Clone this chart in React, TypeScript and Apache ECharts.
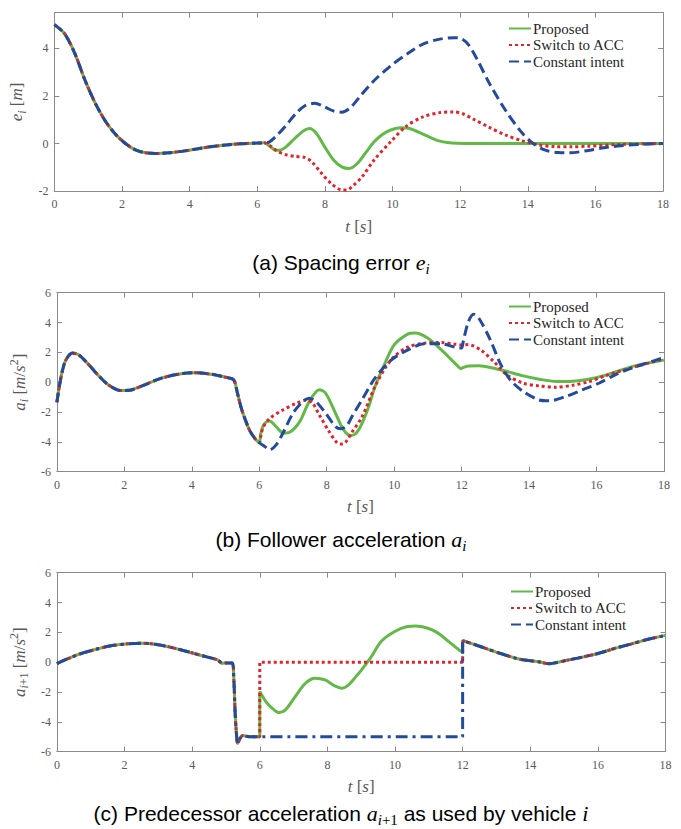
import React, { useEffect, useRef } from 'react';
import * as echarts from 'echarts';

type Pt = [number, number];

// ---------- (a) Spacing error e_i [m] ----------
const eCommon: Pt[] = [
  [0, 5.0], [0.3, 4.62], [0.6, 3.8], [0.9, 2.68], [1.2, 1.72], [1.5, 0.96], [1.8, 0.4],
  [2.1, 0.0], [2.4, -0.27], [2.7, -0.39], [3.0, -0.42], [3.4, -0.39], [3.8, -0.32],
  [4.2, -0.23], [4.6, -0.14], [5.0, -0.07], [5.5, -0.01], [6.0, 0.02], [6.2, 0.03],
];
const eProposed: Pt[] = [
  [6.4, -0.15], [6.55, -0.28], [6.7, -0.27], [6.85, -0.14], [7.1, 0.2], [7.35, 0.52],
  [7.55, 0.63], [7.75, 0.42], [8.0, -0.15], [8.25, -0.68], [8.5, -0.98], [8.72, -1.05],
  [8.95, -0.85], [9.2, -0.4], [9.45, 0.06], [9.7, 0.38], [9.95, 0.57], [10.25, 0.66],
  [10.5, 0.63], [10.9, 0.4], [11.4, 0.1], [11.9, 0.01], [12.5, 0.0], [14, 0.0], [16, 0.0], [18, 0.0],
];
const eSwitch: Pt[] = [
  [6.4, -0.12], [6.6, -0.33], [6.85, -0.47], [7.1, -0.54], [7.4, -0.58], [7.6, -0.75],
  [7.9, -1.25], [8.2, -1.7], [8.5, -1.95], [8.65, -1.95], [8.85, -1.75], [9.1, -1.4],
  [9.45, -0.7], [9.95, 0.08], [10.4, 0.72], [10.9, 1.12], [11.4, 1.3], [11.8, 1.33],
  [12.1, 1.24], [12.4, 1.02], [12.85, 0.69], [13.35, 0.35], [13.85, 0.11], [14.3, -0.05],
  [14.8, -0.13], [15.3, -0.14], [15.8, -0.11], [16.7, -0.04], [17.5, -0.01], [18, 0.0],
];
const eConstant: Pt[] = [
  [6.35, 0.06], [6.55, 0.3], [6.85, 0.76], [7.15, 1.27], [7.42, 1.6], [7.7, 1.69],
  [7.95, 1.57], [8.25, 1.37], [8.5, 1.32], [8.75, 1.5], [9.05, 2.0], [9.45, 2.64],
  [9.95, 3.27], [10.45, 3.78], [10.9, 4.18], [11.4, 4.39], [11.85, 4.45], [12.05, 4.4],
  [12.25, 4.15], [12.5, 3.55], [12.85, 2.57], [13.35, 1.38], [13.8, 0.5], [14.1, 0.07],
  [14.5, -0.27], [14.9, -0.38], [15.25, -0.39], [15.75, -0.3], [16.25, -0.18],
  [16.75, -0.09], [17.25, -0.04], [18, 0.0],
];

// ---------- (b) Follower acceleration a_i [m/s^2] ----------
const aCommon: Pt[] = [
  [0, -1.35], [0.07, -0.3], [0.17, 0.83], [0.27, 1.5], [0.46, 1.95], [0.65, 1.83],
  [0.95, 1.16], [1.24, 0.43], [1.53, -0.18], [1.9, -0.56], [2.2, -0.52], [2.6, -0.18],
  [3.1, 0.27], [3.6, 0.54], [4.07, 0.63], [4.56, 0.54], [4.95, 0.36], [5.2, 0.22],
  [5.27, 0.05], [5.35, -0.7], [5.45, -1.6], [5.55, -2.3], [5.73, -3.3], [5.9, -3.85], [6.0, -4.05],
];
const aProposed: Pt[] = [
  [6.04, -3.5], [6.1, -3.0], [6.18, -2.72], [6.3, -2.6], [6.5, -2.98], [6.72, -3.42],
  [6.9, -3.36], [7.2, -2.64], [7.48, -1.3], [7.78, -0.5], [7.97, -0.74], [8.26, -2.08],
  [8.5, -3.2], [8.72, -3.58], [8.88, -3.4], [9.04, -2.8], [9.25, -1.6], [9.43, -0.3],
  [9.73, 1.28], [10.0, 2.5], [10.4, 3.22], [10.62, 3.3], [11.0, 2.95], [11.4, 2.17],
  [11.7, 1.5], [11.93, 0.98], [11.98, 0.9], [12.04, 0.98], [12.2, 1.08], [12.5, 1.1],
  [13.15, 0.83], [13.8, 0.44], [14.3, 0.2], [14.8, 0.05], [15.3, 0.07], [15.8, 0.22],
  [16.3, 0.49], [16.75, 0.83], [17.25, 1.16], [18, 1.48],
];
const aSwitch: Pt[] = [
  [6.05, -3.55], [6.12, -3.0], [6.3, -2.45], [6.7, -1.86], [7.1, -1.42], [7.4, -1.2],
  [7.58, -1.4], [7.78, -2.19], [8.07, -3.31], [8.3, -4.05], [8.42, -4.15], [8.55, -4.05],
  [8.75, -3.35], [9.04, -2.35], [9.43, -0.3], [9.73, 0.94], [10.0, 1.72], [10.4, 2.35],
  [10.9, 2.62], [11.4, 2.66], [11.8, 2.55], [12.05, 2.5], [12.2, 2.52], [12.56, 2.17],
  [12.95, 1.39], [13.34, 0.49], [13.83, -0.07], [14.3, -0.25], [14.8, -0.34], [15.3, -0.2],
  [15.78, 0.04], [16.26, 0.43], [16.75, 0.78], [17.24, 1.1], [18, 1.55],
];
const aConstant: Pt[] = [
  [6.17, -4.32], [6.31, -4.54], [6.5, -4.2], [6.7, -3.42], [7.0, -2.08], [7.29, -1.3],
  [7.48, -1.07], [7.68, -1.3], [7.97, -2.08], [8.26, -2.98], [8.42, -3.12], [8.6, -2.9],
  [8.75, -2.3], [9.04, -1.2], [9.43, 0.27], [9.92, 1.5], [10.41, 2.17], [10.9, 2.57],
  [11.39, 2.57], [11.8, 2.35], [11.93, 2.29], [12.0, 2.3], [12.05, 2.75], [12.2, 4.05],
  [12.36, 4.55], [12.52, 4.25], [12.85, 2.84], [13.14, 1.28], [13.44, 0.16], [13.83, -0.63],
  [14.3, -1.19], [14.6, -1.25], [15.09, -0.96], [15.58, -0.51], [16.07, -0.07], [16.55, 0.49],
  [17.04, 0.94], [18, 1.65],
];

// ---------- (c) Predecessor acceleration a_{i+1} [m/s^2] ----------
const pCommon: Pt[] = [
  [0, -0.09], [0.6, 0.49], [1.1, 0.83], [1.6, 1.1], [2.1, 1.23], [2.5, 1.27], [2.9, 1.21],
  [3.35, 1.01], [3.85, 0.72], [4.3, 0.43], [4.75, 0.16], [4.9, -0.08], [4.95, -0.05],
  [5.18, -0.05], [5.23, -1.0], [5.27, -3.3], [5.31, -4.8], [5.35, -5.45], [5.42, -5.1],
  [5.5, -4.92], [5.7, -5.0], [5.97, -5.0],
];
const pProposed: Pt[] = [
  [6.0, -5.0], [6.0, -1.97], [6.18, -2.64], [6.37, -3.09], [6.57, -3.38], [6.76, -3.2],
  [7.05, -2.3], [7.35, -1.41], [7.64, -1.07], [7.93, -1.19], [8.22, -1.59], [8.42, -1.74],
  [8.61, -1.55], [8.85, -0.95], [9.0, -0.55], [9.3, 0.38], [9.59, 1.39], [9.99, 2.06],
  [10.37, 2.39], [10.6, 2.42], [11.05, 2.21], [11.35, 1.83], [11.64, 1.28], [11.93, 0.76],
  [12.0, 0.68], [12.0, 1.45],
];
const pSwitch: Pt[] = [
  [6.0, -5.0], [6.0, 0.0], [6.05, 0.0], [11.95, 0.0], [12.0, 0.0], [12.0, 1.45],
];
const pConstant: Pt[] = [
  [6.0, -5.0], [11.95, -5.0], [12.0, -5.0], [12.0, 1.45],
];
const pTail: Pt[] = [
  [12.04, 1.42], [12.5, 1.07], [13.1, 0.6], [13.7, 0.2], [14.28, 0.02], [14.55, -0.1],
  [14.65, -0.08], [15.05, 0.11], [15.54, 0.34], [16.03, 0.6], [16.52, 0.94], [17.0, 1.23],
  [17.49, 1.54], [18, 1.8],
];

const SERIES_NAMES = ['Proposed', 'Switch to ACC', 'Constant intent'];
const Y_RANGES: [number, number][] = [[-2, 5.5], [-6, 6], [-6, 6]];
const X_MIN = 0, X_MAX = 18, X_STEP = 2, Y_STEP = 2;

const PANEL_DATA: Pt[][][] = [
  [eCommon.concat(eProposed), eCommon.concat(eSwitch), eCommon.concat(eConstant)],
  [aCommon.concat(aProposed), aCommon.concat(aSwitch), aCommon.concat(aConstant)],
  [pCommon.concat(pProposed, pTail), pCommon.concat(pSwitch, pTail), pCommon.concat(pConstant, pTail)],
];

const GREEN = '#62B947';
const RED = '#E3232C';
const BLUE = '#234A9C';
const AXIS = '#8a8a8a';
const LABEL = '#595959';
const SERIF = "'Liberation Serif', 'Times New Roman', serif";
const SANS = "'Liberation Sans', Arial, sans-serif";

const GRIDS = [
  { left: 49.5, top: 12.7, width: 613.5, height: 178.4 },
  { left: 51, top: 292.7, width: 613, height: 179 },
  { left: 52.5, top: 572.7, width: 613, height: 179 },
];
const LEGEND_POS = [
  { left: 508, top: 21 },
  { left: 508, top: 299 },
  { left: 510, top: 584 },
];
const Y_NAMES = [
  '{v|e}{sb|i}{n| [}{v|m}{n|]}',
  '{v|a}{sb|i}{n| [}{v|m}{n|/}{v|s}{sp|2}{n|]}',
  '{v|a}{sb|i}{sbn|+1}{n| [}{v|m}{n|/}{v|s}{sp|2}{n|]}',
];
const CAPTIONS = [
  { text: '{n|(a) Spacing error }{m|e}{s|i}', y: 262 },
  { text: '{n|(b) Follower acceleration }{m|a}{s|i}', y: 539 },
  { text: '{n|(c) Predecessor acceleration }{m|a}{s|i}{sn|+1}{n| as used by vehicle }{m|i}', y: 813 },
];

const MATH_RICH = {
  v: { fontFamily: SERIF, fontStyle: 'italic', fontSize: 17, color: LABEL, lineHeight: 22, verticalAlign: 'middle' },
  n: { fontFamily: SERIF, fontSize: 17, color: LABEL, lineHeight: 22, verticalAlign: 'middle' },
  sb: { fontFamily: SERIF, fontStyle: 'italic', fontSize: 12, color: LABEL, lineHeight: 12, verticalAlign: 'bottom' },
  sbn: { fontFamily: SERIF, fontSize: 12, color: LABEL, lineHeight: 12, verticalAlign: 'bottom' },
  sp: { fontFamily: SERIF, fontSize: 12, color: LABEL, lineHeight: 12, verticalAlign: 'top' },
};
const CAP_RICH = {
  n: { fontFamily: SANS, fontSize: 21, color: '#000', lineHeight: 29, verticalAlign: 'middle' },
  m: { fontFamily: SERIF, fontStyle: 'italic', fontSize: 22, color: '#000', lineHeight: 29, verticalAlign: 'middle' },
  s: { fontFamily: SERIF, fontStyle: 'italic', fontSize: 15, color: '#000', lineHeight: 15, verticalAlign: 'bottom' },
  sn: { fontFamily: SERIF, fontSize: 15, color: '#000', lineHeight: 15, verticalAlign: 'bottom' },
};

function buildOption() {
  const xAxis: any[] = [];
  const yAxis: any[] = [];
  const series: any[] = [];
  GRIDS.forEach((g, i) => {
    const lineCommon = {
      splitLine: { show: false },
      axisLine: { show: true, onZero: false, lineStyle: { color: AXIS, width: 1 } },
      axisTick: { show: true, inside: true, length: 5, lineStyle: { color: AXIS } },
    };
    const xc = { type: 'value', gridIndex: i, min: X_MIN, max: X_MAX, interval: X_STEP, ...lineCommon };
    xAxis.push({
      ...xc,
      position: 'bottom',
      axisLabel: { color: LABEL, fontFamily: SERIF, fontSize: 12, margin: 7 },
      name: '{v|t}{n| [}{v|s}{n|]}',
      nameLocation: 'middle',
      nameGap: 24,
      nameTextStyle: { rich: MATH_RICH },
    });
    xAxis.push({ ...xc, position: 'top', axisLabel: { show: false } });
    const [ymin, ymax] = Y_RANGES[i];
    const yc = { type: 'value', gridIndex: i, min: ymin, max: ymax, interval: Y_STEP, ...lineCommon };
    yAxis.push({
      ...yc,
      position: 'left',
      axisLabel: {
        color: LABEL, fontFamily: SERIF, fontSize: 12, margin: 6,
        formatter: (v: number) => (Math.abs(v % 2) < 1e-9 ? String(v) : ''),
      },
      name: Y_NAMES[i],
      nameLocation: 'middle',
      nameRotate: 90,
      nameGap: 21,
      nameTextStyle: { rich: MATH_RICH },
    });
    yAxis.push({ ...yc, position: 'right', axisLabel: { show: false } });

    const styles = [
      { color: GREEN, width: 3, type: 'solid' },
      { color: RED, width: 3, type: [3, 3], cap: 'butt' },
      { color: BLUE, width: 3, type: i === 2 ? [12, 5, 3, 5] : [10, 5], cap: 'butt' },
    ];
    SERIES_NAMES.forEach((name, k) => {
      series.push({
        type: 'line',
        name,
        xAxisIndex: i * 2,
        yAxisIndex: i * 2,
        data: PANEL_DATA[i][k],
        symbol: 'none',
        smooth: 0.3,
        color: styles[k].color,
        lineStyle: styles[k],
        itemStyle: { color: styles[k].color },
        z: 2 + k,
      });
    });
  });

  return {
    animation: false,
    backgroundColor: '#fff',
    grid: GRIDS.map((g) => ({ ...g, show: false })),
    xAxis,
    yAxis,
    legend: LEGEND_POS.map((p) => ({
      left: p.left,
      top: p.top,
      padding: 0,
      orient: 'vertical',
      data: SERIES_NAMES,
      itemWidth: 22,
      itemHeight: 10,
      itemGap: 1.5,
      selectedMode: false,
      itemStyle: { opacity: 0 },
      textStyle: { fontFamily: SERIF, fontSize: 15, color: '#262626', lineHeight: 14, padding: [0, 0, 0, -3] },
    })),
    graphic: CAPTIONS.map((c) => ({
      type: 'text',
      x: 341,
      y: c.y,
      style: { text: c.text, rich: CAP_RICH, align: 'center', verticalAlign: 'middle' },
    })),
    series,
  };
}

export default function App() {
  const ref = useRef<HTMLDivElement>(null);
  useEffect(() => {
    document.body.style.margin = '0';
    const chart = echarts.init(ref.current as HTMLDivElement, null, { renderer: 'svg' });
    chart.setOption(buildOption() as any);
    return () => chart.dispose();
  }, []);
  return <div ref={ref} style={{ width: 681, height: 829, background: '#fff' }} />;
}
